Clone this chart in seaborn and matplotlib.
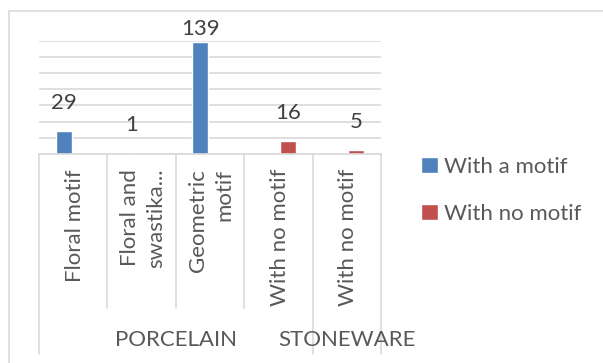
import pandas as pd
import numpy as np
import matplotlib
matplotlib.use("Agg")
import matplotlib.pyplot as plt
from matplotlib.lines import Line2D
import seaborn as sns

# chart data
categories = ["Floral motif", "Floral and\nswastika...", "Geometric\nmotif", "With no motif", "With no motif"]
groups = ["PORCELAIN", "PORCELAIN", "PORCELAIN", "PORCELAIN", "STONEWARE"]
with_motif = [29, 1, 139, 0, 0]
no_motif = [0, 0, 0, 16, 5]
series_names = ["With a motif", "With no motif"]

sns.set_theme(style="white")
plt.rcParams["font.family"] = ["Lato", "DejaVu Sans"]

GRID = "#d9d9d9"
TXT = "#595959"
NUM = "#404040"
FS = 16

df = pd.DataFrame({
    "pos": list(range(len(categories))) * 2,
    "value": with_motif + no_motif,
    "series": [series_names[0]] * len(categories) + [series_names[1]] * len(categories),
})

W, H = 603, 363
fig = plt.figure(figsize=(W / 100, H / 100), dpi=100)
ax = fig.add_axes([39 / W, 1 - 154 / H, 342 / W, (154 - 40.7) / H])

sns.barplot(data=df, x="pos", y="value", hue="series", hue_order=series_names,
            palette=["#4f81bd", "#c0504d"], width=0.56, gap=0.16, ax=ax,
            saturation=1, errorbar=None)

ax.set_xlim(-0.5, len(categories) - 0.5)
ax.set_ylim(0, 140)
ax.set_yticks(np.arange(0, 141, 20))
ax.yaxis.grid(True, color=GRID, lw=1.2)
ax.set_axisbelow(True)
ax.set_yticklabels([])
ax.tick_params(axis="both", length=0)
ax.set_xticks([])
ax.set_xlabel("")
ax.set_ylabel("")
for s in ["top", "left", "right"]:
    ax.spines[s].set_visible(False)
ax.spines["bottom"].set_color(GRID)
ax.spines["bottom"].set_linewidth(1.2)

# value labels above non-empty bars
px = 140 / (154 - 40.7)
for i, (a, b) in enumerate(zip(with_motif, no_motif)):
    for v, off in ((a, -0.14), (b, 0.14)):
        if v > 0:
            ax.text(i + off, min(v + 18 * px, 142), str(v), ha="center", va="bottom",
                    fontsize=FS, color=NUM, clip_on=False)

# category labels and dividers
tr = ax.get_xaxis_transform()
for i, c in enumerate(categories):
    ax.text(i + 0.02, -(169 - 154) / 113.3, c, rotation=90, ha="center", va="top",
            multialignment="right", fontsize=FS, color=TXT, transform=tr, linespacing=1.4)

inner = -(308 - 154) / 113.3
outer = -(354 - 154) / 113.3
bounds = [i - 0.5 for i in range(len(categories) + 1)]
group_edges = [0] + [i for i in range(1, len(groups)) if groups[i] != groups[i - 1]] + [len(groups)]
for b in bounds:
    k = int(b + 0.5)
    y1 = outer if k in group_edges else inner
    ax.plot([b, b], [0, y1], color=GRID, lw=1.2, transform=tr, clip_on=False)

for s, e in zip(group_edges[:-1], group_edges[1:]):
    ax.text((s + e - 1) / 2, -(340 - 154) / 113.3, groups[s], ha="center", va="center",
            fontsize=FS, color=TXT, transform=tr)

# legend
handles, labels = ax.get_legend_handles_labels()
ax.legend(handles, labels, loc="upper left", bbox_to_anchor=(421 / W, 1 - 157 / H),
          bbox_transform=fig.transFigure, frameon=False, fontsize=FS, labelcolor=TXT,
          borderaxespad=0, borderpad=0,
          handlelength=0.75, handleheight=0.75, handletextpad=0.3, labelspacing=1.2)

# chart area border (left and top edges visible)
fig.add_artist(Line2D([9 / W, 9 / W], [0, 1 - 11 / H], color=GRID, lw=1.2))
fig.add_artist(Line2D([9 / W, 1], [1 - 11 / H, 1 - 11 / H], color=GRID, lw=1.2))

fig.savefig("out.png", dpi=100)
